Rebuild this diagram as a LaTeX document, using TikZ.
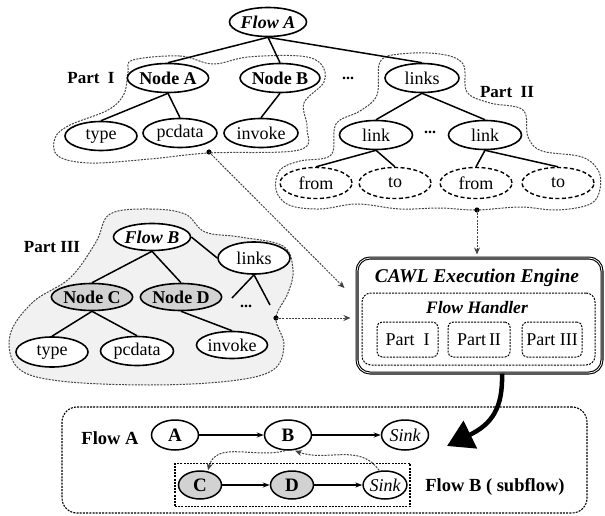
\documentclass[tikz,border=0pt]{standalone}
\usepackage{fontspec}
\setmainfont{Liberation Serif}
\usetikzlibrary{shapes.geometric, arrows.meta, calc}

\tikzset{
  ell/.style={ellipse, draw, line width=1.6pt, inner sep=0pt, fill=white,
    minimum width=72pt, minimum height=29pt, font=\fontsize{18}{20}\selectfont},
  ellb/.style={ell, font=\bfseries\fontsize{18}{20}\selectfont},
  ellbi/.style={ell, font=\bfseries\itshape\fontsize{18}{20}\selectfont},
  ellg/.style={ellb, fill=gray!35},
  elld/.style={ell, dash pattern=on 4pt off 2.5pt, line width=1.4pt},
  blob/.style={draw=gray!55!black, line width=1pt, dash pattern=on 2pt off 1.2pt},
  treeedge/.style={line width=1.5pt},
  dotarrow/.style={draw=gray!50!black, line width=1pt, dash pattern=on 2pt off 1.2pt,
    -{Stealth[length=7pt,width=6pt]}},
  flowarrow/.style={line width=1.1pt, -{Stealth[length=7pt,width=5pt]}},
  lab/.style={font=\bfseries\fontsize{17}{19}\selectfont},
  dots/.style={font=\bfseries\fontsize{16}{18}\selectfont},
  partbox/.style={draw, rounded corners=5pt, dash pattern=on 2pt off 1.2pt, line width=1pt,
    minimum width=61pt, minimum height=35pt, font=\fontsize{18}{20}\selectfont},
  small/.style={ellipse, draw, line width=1.5pt, inner sep=0pt, fill=white,
    minimum width=47pt, minimum height=30pt, font=\bfseries\fontsize{19}{21}\selectfont},
}

\begin{document}
\begin{tikzpicture}[x=1pt, y=-1pt]
\useasboundingbox (0,0) rectangle (605,516);

% ---------- grouping outlines ----------
% Part I
\draw[blob] plot[smooth cycle, tension=0.6] coordinates {
  (133,60) (180,56) (213,64) (248,57) (300,56) (321,64) (324,82) (304,103)
  (307,128) (299,150) (209,153) (150,159) (90,163) (58,156) (55,138)
  (70,125) (108,110) (124,94) (128,72)};
% Part II
\draw[blob] plot[smooth cycle, tension=0.6] coordinates {
  (380,62) (400,54) (440,54) (463,64) (467,92) (490,103) (523,110) (528,137)
  (542,151) (582,157) (599,172) (599,193) (588,205) (556,210) (520,207)
  (477,210) (440,208) (400,209) (357,204) (320,209) (289,205) (276,190)
  (280,170) (300,161) (331,155) (336,124) (360,111) (377,95)};
% Part III (shaded)
\draw[blob, fill=gray!11] plot[smooth cycle, tension=0.6] coordinates {
  (110,214) (150,209) (185,214) (205,232) (240,237) (283,246) (293,270)
  (288,293) (276,318) (284,345) (273,370) (230,381) (150,385) (60,381)
  (18,368) (10,335) (33,302) (70,278) (96,242)};

% ---------- tree of Flow A ----------
\node[ellbi] (flowA) at (268,22) {Flow A};
\node[ellb, minimum width=70pt] (nodeA) at (168,78) {Node A};
\node[ellb, minimum width=74pt] (nodeB) at (280,78) {Node B};
\node[dots] (dA) at (348,78) {...};
\node[ell, minimum width=74pt] (linksA) at (422,78) {links};
\node[ell] (typeA) at (101,136) {type};
\node[ell, minimum width=74pt] (pcdataA) at (180,133) {pcdata};
\node[ell, minimum width=74pt] (invokeA) at (261,133) {invoke};
\node[ell, minimum width=73pt] (link1) at (376,135) {link};
\node[dots] (dL) at (430,132) {...};
\node[ell, minimum width=73pt] (link2) at (485,135) {link};
\node[elld, minimum height=31pt] (from1) at (316,183) {from};
\node[elld, minimum height=31pt] (to1) at (395,183) {to};
\node[elld, minimum height=31pt] (from2) at (476,183) {from};
\node[elld, minimum height=31pt] (to2) at (558,183) {to};

\draw[treeedge] (flowA.south) -- (nodeA.north);
\draw[treeedge] (flowA.south) -- (nodeB.north);
\draw[treeedge] (flowA.south) -- (linksA.north);
\draw[treeedge] (nodeA.south) -- (typeA.north);
\draw[treeedge] (nodeA.south) -- (pcdataA.north);
\draw[treeedge] (nodeB.south) -- (invokeA.north);
\draw[treeedge] (linksA.south) -- (link1.north);
\draw[treeedge] (linksA.south) -- (link2.north);
\draw[treeedge] (link1.south) -- (from1.north);
\draw[treeedge] (link1.south) -- (to1.north);
\draw[treeedge] (link2.south) -- (from2.north);
\draw[treeedge] (link2.south) -- (to2.north);

\node[lab] (lab1) at (91,78) {Part\enspace I};
\node[lab] (lab2) at (507,92) {Part\enspace II};
\node[lab] (lab3) at (52,247) {Part III};

% ---------- tree of Flow B ----------
\node[ellbi, minimum width=73pt, minimum height=27pt] (flowB) at (152,237) {Flow B};
\node[ell, minimum height=32pt] (linksB) at (254,258) {links};
\node[ellg, minimum width=73pt, minimum height=27pt] (nodeC) at (92,297) {Node C};
\node[ellg, minimum height=27pt] (nodeD) at (181,297) {Node D};
\node[dots] (dB) at (246,306) {...};
\node[ell, minimum height=30pt] (typeB) at (52,352) {type};
\node[ell, minimum width=73pt] (pcdataB) at (137,351) {pcdata};
\node[ell, minimum width=71pt, minimum height=27pt] (invokeB) at (232,345) {invoke};
\coordinate (lkL) at (232,298);
\coordinate (lkR) at (270,305);

\draw[treeedge] (flowB.east) -- (linksB.west);
\draw[treeedge] (flowB.south) -- (nodeC.north);
\draw[treeedge] (flowB.south) -- (nodeD.north);
\draw[treeedge] (linksB.south) -- (lkL);
\draw[treeedge] (linksB.south) -- (lkR);
\draw[treeedge] (nodeC.south) -- (typeB.north);
\draw[treeedge] (nodeC.south) -- (pcdataB.north);
\draw[treeedge] (nodeD.south) -- (invokeB.north);

% ---------- execution engine ----------
\node[draw, line width=1.1pt, double, double distance=0.8pt, rounded corners=13pt,
  minimum width=245pt, minimum height=115pt] (engine) at (479.5,315.5) {};
\node[font=\bfseries\itshape\fontsize{19.5}{21}\selectfont] (engT) at (477,278) {CAWL Execution Engine};
\node[draw, rounded corners=9pt, dash pattern=on 2pt off 1.2pt, line width=1pt,
  minimum width=233pt, minimum height=72pt] (handler) at (478.5,329) {};
\node[font=\bfseries\itshape\fontsize{17.5}{19}\selectfont] (handT) at (477,308) {Flow Handler};
\node[partbox] (pb1) at (407.5,339.5) {Part\enspace I};
\node[partbox, minimum width=62pt] (pb2) at (479,339.5) {Part\,II};
\node[partbox, minimum width=60pt] (pb3) at (552,339.5) {Part III};

% ---------- links from the parts to the engine ----------
\coordinate (p1dot) at (209,152);
\coordinate (p2dot) at (477,210);
\coordinate (p3dot) at (276,318);
\fill (p1dot) circle (2.6pt);
\fill (p2dot) circle (2.6pt);
\fill (p3dot) circle (2.6pt);
\draw[dotarrow] (p1dot) -- ([xshift=-12pt, yshift=27.5pt]engine.west);
\draw[dotarrow, shorten >=3pt] (p2dot) -- (p2dot |- engine.north);
\draw[dotarrow, shorten >=6pt] (p3dot) -- (p3dot -| engine.west);

% ---------- resulting flows ----------
\node[draw, rounded corners=15pt, dash pattern=on 2pt off 1.2pt, line width=1.1pt,
  minimum width=525pt, minimum height=106pt] (result) at (324.5,460) {};
\node[draw, dash pattern=on 2pt off 1.2pt, line width=1.6pt,
  minimum width=235pt, minimum height=43pt] (subbox) at (292.5,485) {};

\node[lab, font=\bfseries\fontsize{18.5}{20}\selectfont] (flA) at (110,438) {Flow A};
\node[small] (A) at (175,435) {A};
\node[small] (B) at (288,435) {B};
\node[small, font=\itshape\fontsize{18}{20}\selectfont] (sinkA) at (405,435) {Sink};
\node[small, fill=gray!35, minimum width=43pt, minimum height=28pt] (C) at (200,485) {C};
\node[small, fill=gray!35, minimum width=43pt, minimum height=28pt] (D) at (292,485) {D};
\node[small, minimum width=43pt, minimum height=28pt, font=\itshape\fontsize{18}{20}\selectfont] (sinkB) at (385,485) {Sink};
\node[lab, font=\bfseries\fontsize{18.5}{20}\selectfont] (flB) at (495,487) {Flow B ( subflow)};

\draw[flowarrow] (A) -- (B);
\draw[flowarrow] (B) -- (sinkA);
\draw[flowarrow] (C) -- (D);
\draw[flowarrow] (D) -- (sinkB);
\draw[dotarrow] ([xshift=-3pt]B.south) to[out=195, in=75] ([xshift=8pt]C.north);
\draw[dotarrow] ([xshift=-6pt]sinkB.north) to[out=125, in=-20] ([xshift=7pt]B.south);

% ---------- hand-over arrow from engine to flows ----------
\coordinate (bigS) at ($(engine.south)+(22.5pt,0)$);
\coordinate (bigE) at (447,446);
\draw[line width=4.5pt, -{Triangle[length=26pt, width=30pt]}]
  (bigS) .. controls (503,408) and (492,424) .. (bigE);
\end{tikzpicture}
\end{document}
